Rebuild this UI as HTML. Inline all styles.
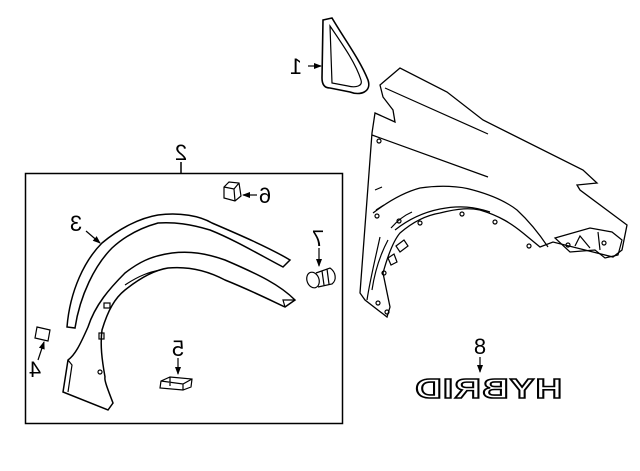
<!DOCTYPE html>
<html><head><style>
html,body{margin:0;padding:0;background:#fff;}
svg{display:block;}
text{font-family:"Liberation Sans",sans-serif;font-size:22px;fill:#000;}
</style></head><body>
<svg width="640" height="471" viewBox="0 0 640 471" xmlns="http://www.w3.org/2000/svg">
<defs><marker id="a" markerWidth="8" markerHeight="8" refX="7" refY="4" orient="auto" markerUnits="userSpaceOnUse"><path d="M0,1 L8,4 L0,7z" fill="#000"/></marker></defs>
<g fill="none" stroke="#000" stroke-width="1.2">
<rect x="25.5" y="173.5" width="317" height="250" stroke-width="1.5"/>
<line x1="181" y1="162" x2="181" y2="173" stroke-width="1.5"/>
<path d="M323,20 L332,18 C345,40 360,60 368,80 C372,92 360,96 350,92 L330,88 C324,88 322,84 322,78 Z" stroke-width="1.6"/>
<path d="M330,26 C345,48 356,64 361,80 C363,86 356,88 348,86 L332,83 Z"/>
<line x1="308" y1="66" x2="321" y2="66" marker-end="url(#a)"/>
<path d="M400,68 L380,85 L383,97 L393,110 L395,122 L375,113 L372,133 L360,293 L365,300 L387,317 L390,307 L383,273 C388,255 394,240 400,233 C415,220 428,215 440,213 C460,208 470,208 480,210 C500,216 512,224 523,233 L540,247 L553,242 L585,250 L613,257 L622,250 L627,225 L580,190 L577,185 L597,183 L583,170 L483,120 L447,92 Z" stroke-width="1.3"/>
<path d="M373,213 C390,200 405,192 420,188 C440,185 460,186 473,190 C495,196 508,203 517,210 C530,222 540,235 548,247"/>
<path d="M385,88 L488,134 M372,135 L488,177 M375,190 L382,187 M376,210 L384,205"/>
<path d="M395,230 C410,218 425,212 440,209 C460,205 475,207 490,212 M388,240 C380,255 375,270 372,290"/>
<path d="M380,237 C375,260 370,280 367,300 M391,228 C398,220 405,215 412,212"/>
<path d="M555,238 L590,228 L612,232 L622,240 L618,255 L605,258 L595,250 L570,252 Z M575,246 L580,236 L590,248 M598,232 L600,250"/>
<path d="M396,246 L404,240 L408,246 L400,252 Z M388,258 L394,254 L397,262 L391,265 Z"/>
<circle cx="379" cy="141" r="2"/><circle cx="377" cy="216" r="2"/><circle cx="462" cy="214" r="2"/><circle cx="495" cy="222" r="2"/><circle cx="529" cy="246" r="2"/><circle cx="384" cy="273" r="2"/><circle cx="399" cy="221" r="2"/><circle cx="568" cy="245" r="2"/><circle cx="604" cy="243" r="2"/><circle cx="378" cy="303" r="2"/><circle cx="387" cy="312" r="2"/><circle cx="420" cy="223" r="2"/>
<path d="M67,327 C70,290 85,260 102,243 C120,228 140,218 158,215 C180,212 200,216 212,223 C240,235 270,248 290,260 L283,267 C260,255 235,240 210,230 C190,224 175,222 158,223 C140,228 125,236 112,248 C95,265 80,295 75,328 Z" stroke-width="1.5"/>
<line x1="86" y1="231" x2="100" y2="243" marker-end="url(#a)"/>
<path d="M68,360 L63,392 L108,410 L113,403 C108,390 104,380 105,377 C102,360 100,345 102,330 C108,310 115,298 125,290 C140,278 155,270 168,268 C190,266 210,272 225,280 C250,290 270,300 285,307 L295,300 C280,285 260,275 225,260 C205,253 190,251 172,253 C150,256 138,263 125,273 C110,288 95,305 88,327 C80,345 75,355 68,360 Z" stroke-width="1.5"/>
<path d="M125,285 C140,275 150,272 160,270 M285,307 L283,300 L295,300 M68,360 L72,365 L68,392"/>
<circle cx="100" cy="372" r="2"/><rect x="104" y="303" width="6" height="5"/><rect x="99" y="333" width="5" height="6"/>
<path d="M37,327 L50,330 L48,341 L35,338 Z"/>
<line x1="38" y1="360" x2="44" y2="342" marker-end="url(#a)"/>
<path d="M161,381 L170,377 L192,379 L191,387 L183,390 L160,388 Z M170,377 L170,386 M161,381 L183,384 L192,379 M183,384 L183,390"/>
<line x1="178" y1="358" x2="178" y2="374" marker-end="url(#a)"/>
<path d="M224,187 L229,182 L239,183 L241,196 L235,201 L224,198 Z M224,187 L234,189 L239,183 M234,189 L235,201"/>
<line x1="257" y1="195" x2="243" y2="195" marker-end="url(#a)"/>
<ellipse cx="313" cy="280" rx="6" ry="8" transform="rotate(-20 313 280)"/>
<path d="M316,273 L330,268 C336,272 337,280 332,284 L318,287 M322,271 L324,285 M327,269 L329,284"/>
<line x1="319" y1="248" x2="319" y2="266" marker-end="url(#a)"/>
<line x1="480" y1="357" x2="480" y2="372" marker-end="url(#a)"/>
</g>
<text x="296" y="74" transform="scale(-1,1) translate(-592,0)" text-anchor="middle">1</text>
<text x="181" y="160" transform="scale(-1,1) translate(-362,0)" text-anchor="middle">2</text>
<text x="76" y="231" transform="scale(-1,1) translate(-152,0)" text-anchor="middle">3</text>
<text x="35" y="377" transform="scale(-1,1) translate(-70,0)" text-anchor="middle">4</text>
<text x="178" y="356" transform="scale(-1,1) translate(-356,0)" text-anchor="middle">5</text>
<text x="265" y="203" transform="scale(-1,1) translate(-530,0)" text-anchor="middle">6</text>
<text x="318" y="246" transform="scale(-1,1) translate(-636,0)" text-anchor="middle">7</text>
<text x="480" y="354" transform="scale(-1,1) translate(-960,0)" text-anchor="middle">8</text>
<text x="488" y="398" transform="scale(-1,1) translate(-976,0)" text-anchor="middle" style="font-size:28px;font-weight:bold;fill:#fff;stroke:#000;stroke-width:1.6;letter-spacing:1px" textLength="148" lengthAdjust="spacingAndGlyphs">HYBRID</text>
</svg>
</body></html>
